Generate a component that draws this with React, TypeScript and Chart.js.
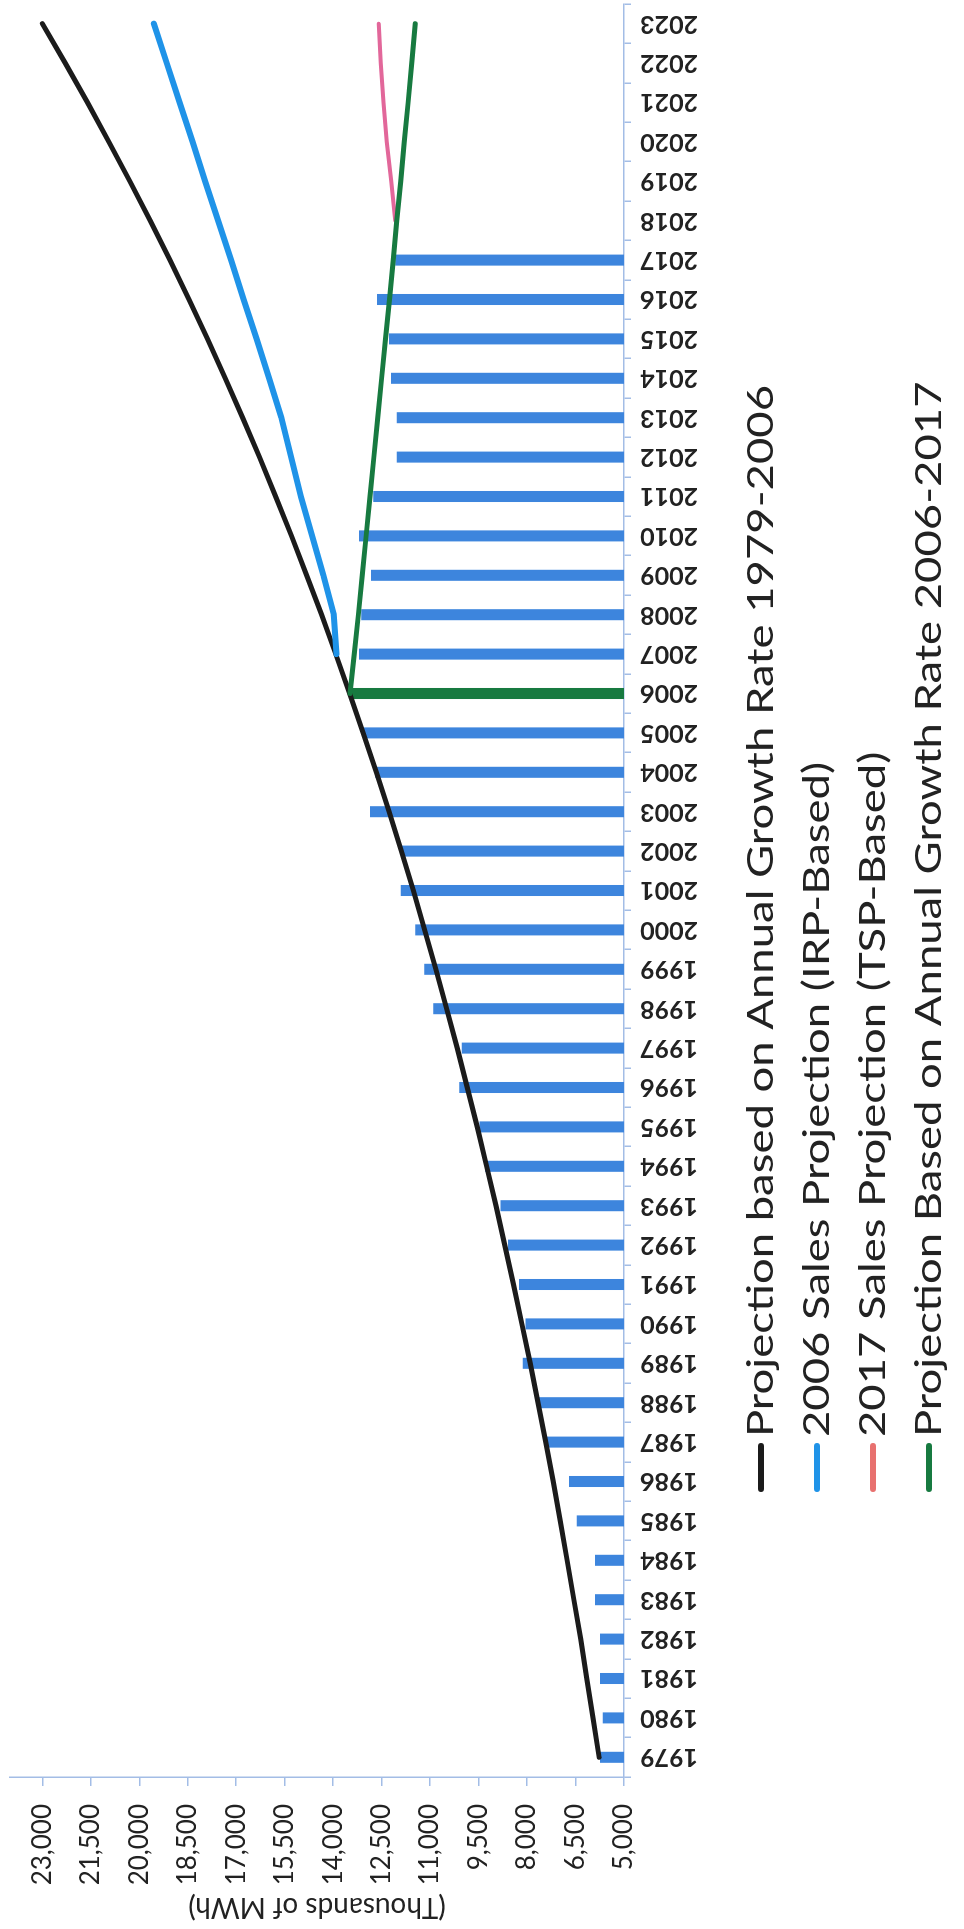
import React, { useEffect, useRef } from 'react';
import { Chart, registerables } from 'chart.js';

Chart.register(...registerables);

// ---------- data ----------
const YEARS = [
  '1979', '1980', '1981', '1982', '1983', '1984', '1985', '1986', '1987', '1988',
  '1989', '1990', '1991', '1992', '1993', '1994', '1995', '1996', '1997', '1998',
  '1999', '2000', '2001', '2002', '2003', '2004', '2005', '2006', '2007', '2008',
  '2009', '2010', '2011', '2012', '2013', '2014', '2015', '2016', '2017', '2018',
  '2019', '2020', '2021', '2022', '2023',
];

// actual sales (thousands of MWh), 1979-2017
const SALES = [
  5740, 5660, 5740, 5740, 5900, 5900, 6460, 6700, 7440, 7670,
  8130, 8050, 8250, 8590, 8820, 9300, 9470, 10100, 10020, 10900,
  11180, 11460, 11910, 11880, 12860, 12700, 13060, 13480, 13200, 13130,
  12830, 13200, 12760, 12030, 12030, 12210, 12270, 12640, 12080, null,
  null, null, null, null, null,
];

// Projection based on Annual Growth Rate 1979-2006
const BLACK = [
  5770, 5960, 6150, 6340, 6550, 6760, 6970, 7190, 7420, 7660,
  7900, 8160, 8420, 8690, 8960, 9250, 9540, 9850, 10160, 10490,
  10820, 11170, 11520, 11890, 12270, 12660, 13070, 13490, 13920, 14360,
  14820, 15290, 15780, 16280, 16800, 17340, 17890, 18460, 19050, 19660,
  20290, 20940, 21600, 22290, 23000,
];

// 2006 Sales Projection (IRP-Based)
const BLUE = [
  null, null, null, null, null, null, null, null, null, null,
  null, null, null, null, null, null, null, null, null, null,
  null, null, null, null, null, null, null, null, 13900, 13980,
  14300, 14650, 15000, 15300, 15600, 15980, 16370, 16770, 17160, 17560,
  17960, 18350, 18750, 19150, 19550,
];

// 2017 Sales Projection (TSP-Based)
const PINK = [
  null, null, null, null, null, null, null, null, null, null,
  null, null, null, null, null, null, null, null, null, null,
  null, null, null, null, null, null, null, null, null, null,
  null, null, null, null, null, null, null, null, null, 12080,
  12200, 12340, 12440, 12530, 12590,
];

// Projection Based on Annual Growth Rate 2006-2017
const GREEN = [
  null, null, null, null, null, null, null, null, null, null,
  null, null, null, null, null, null, null, null, null, null,
  null, null, null, null, null, null, null, 13480, 13350, 13220,
  13100, 12980, 12860, 12740, 12620, 12500, 12380, 12260, 12140, 12030,
  11910, 11800, 11680, 11570, 11460,
];

const VALUE_TICKS = [5000, 6500, 8000, 9500, 11000, 12500, 14000, 15500, 17000, 18500, 20000, 21500, 23000];

const SERIES_LABELS = [
  'Projection based on Annual Growth Rate 1979-2006',
  '2006 Sales Projection (IRP-Based)',
  '2017 Sales Projection (TSP-Based)',
  'Projection Based on Annual Growth Rate 2006-2017',
];
const AXIS_TITLE = '(Thousands of MWh)';
const HIGHLIGHT_YEAR = '2006';

// ---------- style ----------
const W = 1929; // landscape chart width (becomes page height after rotation)
const H = 964;
const C_BLACK = '#1b1b1b';
const C_BLUE = '#1f93e8';
const C_PINK = '#e2679a';
const C_GREEN = '#177a40';
const C_BAR = '#3d85dd';
const C_AXIS = '#a3bde6';
const C_TEXT = '#222222';
const LEGEND_COLORS = [C_BLACK, C_BLUE, '#e8716f', C_GREEN];

export default function App() {
  const ref = useRef<HTMLCanvasElement>(null);

  useEffect(() => {
    const canvas = ref.current;
    if (!canvas) return;

    const legendPlugin = {
      id: 'rotLegend',
      afterDraw(chart: any) {
        const ctx = chart.ctx as CanvasRenderingContext2D;
        ctx.save();
        ctx.font = '36px Lato';
        const w0 = ctx.measureText(SERIES_LABELS[0]).width;
        const sx = Math.max(0.8, Math.min(1.45, 1052 / w0));
        SERIES_LABELS.forEach((label, i) => {
          const base = 773 + i * 56;
          const mid = base - 12;
          ctx.strokeStyle = LEGEND_COLORS[i];
          ctx.lineWidth = 6;
          ctx.lineCap = 'round';
          ctx.beginPath();
          ctx.moveTo(440, mid);
          ctx.lineTo(483, mid);
          ctx.stroke();
          ctx.save();
          ctx.translate(492, base);
          ctx.scale(sx, 1);
          ctx.fillStyle = C_TEXT;
          ctx.textBaseline = 'alphabetic';
          ctx.textAlign = 'left';
          ctx.fillText(label, 0, 0);
          ctx.restore();
        });
        ctx.restore();
      },
    };

    const lineDs = (label: string, data: (number | null)[], color: string, width: number, order: number) => ({
      type: 'line' as const,
      label,
      data,
      borderColor: color,
      backgroundColor: color,
      borderWidth: width,
      pointRadius: 0,
      pointHoverRadius: 0,
      tension: 0,
      borderCapStyle: 'round' as const,
      borderJoinStyle: 'round' as const,
      spanGaps: false,
      order,
    });

    const chart = new Chart(canvas, {
      type: 'bar',
      data: {
        labels: YEARS,
        datasets: [
          lineDs(SERIES_LABELS[0], BLACK, C_BLACK, 5, 3),
          lineDs(SERIES_LABELS[1], BLUE, C_BLUE, 6, 2),
          lineDs(SERIES_LABELS[2], PINK, C_PINK, 4, 1),
          lineDs(SERIES_LABELS[3], GREEN, C_GREEN, 5, 0),
          {
            type: 'bar' as const,
            label: 'Sales',
            data: SALES,
            backgroundColor: YEARS.map((y) => (y === HIGHLIGHT_YEAR ? C_GREEN : C_BAR)),
            barPercentage: 0.28,
            categoryPercentage: 1,
            order: 10,
          } as any,
        ],
      },
      options: {
        animation: false,
        responsive: false,
        maintainAspectRatio: false,
        devicePixelRatio: 1,
        layout: { padding: { top: 10, right: 4, left: 0, bottom: 240 } },
        plugins: {
          legend: { display: false },
          tooltip: { enabled: false },
          title: { display: false },
        },
        scales: {
          x: {
            type: 'category',
            offset: true,
            grid: {
              offset: true,
              drawOnChartArea: false,
              drawTicks: true,
              tickLength: 7,
              color: C_AXIS,
              lineWidth: 1.5,
            },
            border: { display: true, color: C_AXIS, width: 1.5 },
            ticks: {
              autoSkip: false,
              minRotation: 90,
              maxRotation: 90,
              padding: 9,
              color: C_TEXT,
              font: { family: 'Lato', size: 25, weight: 'bold' },
            },
            afterFit: (s: any) => {
              s.height = 100;
              s.paddingLeft = 0;
              s.paddingRight = 0;
            },
          },
          y: {
            type: 'linear',
            min: 5000,
            max: 24000,
            afterBuildTicks: (axis: any) => {
              axis.ticks = VALUE_TICKS.map((v) => ({ value: v }));
            },
            grid: {
              drawOnChartArea: false,
              drawTicks: true,
              tickLength: 9,
              color: C_AXIS,
              lineWidth: 1.5,
            },
            border: { display: true, color: C_AXIS, width: 1.5 },
            ticks: {
              padding: 18,
              color: C_TEXT,
              font: { family: 'Lato', size: 26 },
              callback: (v: any) => Number(v).toLocaleString('en-US'),
            },
            title: {
              display: true,
              text: AXIS_TITLE,
              color: C_TEXT,
              font: { family: 'Lato', size: 28, lineHeight: 1.2 },
              padding: { top: 5, bottom: 0 },
            },
            afterFit: (s: any) => {
              s.width = 152;
              s.paddingTop = 0;
              s.paddingBottom = 0;
            },
          },
        },
      } as any,
      plugins: [legendPlugin],
    });

    return () => chart.destroy();
  }, []);

  return (
    <div
      style={{
        position: 'absolute',
        left: 0,
        top: 0,
        width: H,
        height: W,
        overflow: 'hidden',
        background: '#ffffff',
      }}
    >
      <canvas
        ref={ref}
        width={W}
        height={H}
        style={{
          position: 'absolute',
          left: 0,
          top: 0,
          width: W,
          height: H,
          transformOrigin: '0 0',
          transform: `translateY(${W}px) rotate(-90deg)`,
        }}
      />
    </div>
  );
}
